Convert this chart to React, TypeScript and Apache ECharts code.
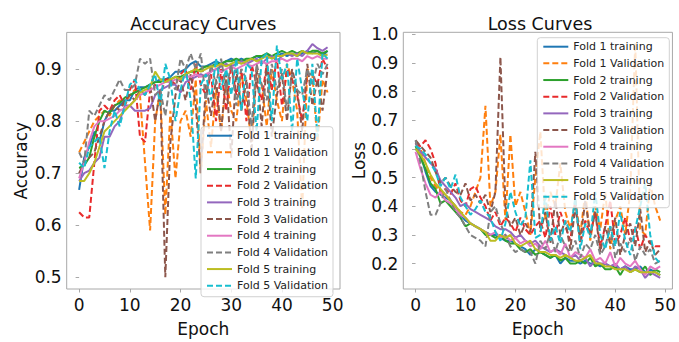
import React, { useEffect, useRef } from "react";
import * as echarts from "echarts";

const epochs: number[] = Array.from({ length: 50 }, (_, i) => i);
const xTicks = [0, 10, 20, 30, 40, 50];
const accTicks = [0.5, 0.6, 0.7, 0.8, 0.9];
const lossTicks = [0.2, 0.3, 0.4, 0.5, 0.6, 0.7, 0.8, 0.9, 1.0];

const seriesNames = [
  "Fold 1 training", "Fold 1 Validation",
  "Fold 2 training", "Fold 2 Validation",
  "Fold 3 training", "Fold 3 Validation",
  "Fold 4 training", "Fold 4 Validation",
  "Fold 5 training", "Fold 5 Validation",
];
const colors = [
  "#1f77b4", "#ff7f0e", "#2ca02c", "#e82a2b", "#9467bd",
  "#8c564b", "#e377c2", "#7f7f7f", "#bcbd22", "#17becf",
];

// Accuracy
const acc1Train = [0.668,0.73,0.75,0.78,0.76,0.80,0.82,0.82,0.83,0.84,0.84,0.86,0.865,0.865,0.87,0.875,0.88,0.88,0.885,0.895,0.895,0.90,0.91,0.915,0.905,0.905,0.91,0.915,0.91,0.915,0.92,0.915,0.92,0.915,0.92,0.925,0.92,0.93,0.92,0.925,0.93,0.925,0.93,0.925,0.93,0.935,0.93,0.935,0.925,0.935];
const acc1Val = [0.74,0.76,0.78,0.80,0.81,0.82,0.81,0.83,0.84,0.83,0.85,0.86,0.85,0.72,0.59,0.80,0.86,0.62,0.82,0.69,0.80,0.82,0.77,0.88,0.70,0.84,0.75,0.86,0.78,0.88,0.82,0.80,0.89,0.84,0.76,0.90,0.87,0.79,0.90,0.84,0.80,0.91,0.88,0.82,0.63,0.90,0.89,0.76,0.88,0.855];
const acc2Train = [0.71,0.715,0.73,0.77,0.80,0.82,0.815,0.83,0.835,0.845,0.85,0.855,0.86,0.865,0.87,0.875,0.875,0.88,0.88,0.885,0.885,0.89,0.895,0.895,0.90,0.905,0.905,0.91,0.91,0.915,0.915,0.92,0.915,0.92,0.92,0.925,0.925,0.93,0.925,0.93,0.935,0.93,0.935,0.93,0.935,0.93,0.935,0.935,0.93,0.935];
const acc2Val = [0.625,0.615,0.615,0.72,0.82,0.83,0.82,0.84,0.85,0.83,0.86,0.88,0.77,0.76,0.86,0.87,0.85,0.88,0.88,0.87,0.89,0.90,0.86,0.91,0.87,0.85,0.89,0.80,0.90,0.82,0.91,0.85,0.90,0.80,0.91,0.87,0.84,0.91,0.86,0.92,0.83,0.90,0.88,0.85,0.80,0.89,0.89,0.87,0.92,0.90];
const acc3Train = [0.685,0.70,0.705,0.72,0.73,0.77,0.77,0.79,0.80,0.83,0.83,0.82,0.82,0.82,0.825,0.85,0.86,0.865,0.87,0.87,0.855,0.875,0.88,0.885,0.89,0.885,0.895,0.90,0.905,0.91,0.905,0.91,0.915,0.91,0.915,0.92,0.91,0.92,0.925,0.915,0.925,0.93,0.925,0.93,0.925,0.935,0.948,0.94,0.935,0.942];
const acc3Val = [0.70,0.72,0.73,0.74,0.77,0.80,0.82,0.83,0.82,0.84,0.85,0.84,0.86,0.85,0.87,0.80,0.86,0.50,0.76,0.85,0.88,0.84,0.89,0.83,0.70,0.87,0.81,0.88,0.78,0.89,0.73,0.90,0.82,0.88,0.74,0.90,0.79,0.91,0.77,0.85,0.89,0.80,0.90,0.86,0.78,0.91,0.83,0.88,0.82,0.90];
const acc4Train = [0.69,0.72,0.76,0.79,0.80,0.80,0.805,0.81,0.82,0.825,0.83,0.84,0.85,0.855,0.86,0.865,0.87,0.875,0.875,0.88,0.88,0.885,0.885,0.89,0.885,0.89,0.895,0.90,0.895,0.90,0.905,0.90,0.905,0.91,0.905,0.91,0.915,0.91,0.915,0.915,0.92,0.915,0.92,0.92,0.915,0.925,0.92,0.925,0.92,0.92];
const acc4Val = [0.74,0.72,0.82,0.81,0.83,0.85,0.84,0.86,0.88,0.86,0.86,0.87,0.92,0.91,0.92,0.85,0.86,0.81,0.88,0.86,0.92,0.90,0.93,0.90,0.93,0.84,0.91,0.87,0.92,0.86,0.91,0.83,0.90,0.88,0.79,0.91,0.87,0.84,0.91,0.86,0.90,0.82,0.89,0.86,0.85,0.90,0.87,0.91,0.89,0.91];
const acc5Train = [0.685,0.685,0.70,0.72,0.75,0.78,0.79,0.80,0.81,0.82,0.83,0.84,0.855,0.86,0.865,0.895,0.88,0.875,0.88,0.885,0.88,0.89,0.895,0.90,0.895,0.90,0.905,0.905,0.91,0.905,0.91,0.915,0.91,0.915,0.92,0.915,0.92,0.925,0.92,0.925,0.925,0.93,0.93,0.925,0.935,0.93,0.93,0.93,0.925,0.928];
const acc5Val = [0.72,0.71,0.75,0.76,0.77,0.71,0.78,0.82,0.79,0.83,0.87,0.88,0.86,0.85,0.87,0.89,0.83,0.91,0.88,0.80,0.86,0.90,0.84,0.69,0.87,0.89,0.84,0.92,0.86,0.90,0.85,0.92,0.82,0.91,0.90,0.78,0.92,0.93,0.80,0.945,0.88,0.91,0.78,0.92,0.86,0.80,0.91,0.77,0.93,0.92];

// Loss
const loss1Train = [0.60,0.58,0.52,0.47,0.45,0.44,0.43,0.42,0.40,0.37,0.35,0.34,0.33,0.32,0.31,0.30,0.30,0.29,0.28,0.28,0.27,0.26,0.25,0.23,0.25,0.24,0.23,0.22,0.23,0.20,0.22,0.21,0.21,0.20,0.21,0.20,0.20,0.19,0.20,0.19,0.19,0.18,0.19,0.18,0.18,0.19,0.17,0.18,0.17,0.16];
const loss1Val = [0.62,0.60,0.55,0.50,0.47,0.45,0.44,0.42,0.40,0.38,0.37,0.40,0.45,0.50,0.75,0.40,0.45,0.65,0.35,0.65,0.40,0.45,0.38,0.30,0.50,0.66,0.35,0.45,0.40,0.55,0.38,0.32,0.42,0.30,0.45,0.28,0.40,0.32,0.45,0.25,0.35,0.40,0.30,0.45,0.97,0.32,0.30,0.48,0.40,0.35];
const loss2Train = [0.61,0.57,0.53,0.48,0.46,0.41,0.42,0.40,0.38,0.36,0.33,0.34,0.33,0.32,0.30,0.30,0.29,0.30,0.28,0.27,0.27,0.25,0.24,0.25,0.23,0.24,0.23,0.22,0.23,0.21,0.22,0.20,0.20,0.21,0.20,0.22,0.19,0.20,0.18,0.18,0.19,0.16,0.19,0.17,0.18,0.17,0.19,0.16,0.18,0.17];
const loss2Val = [0.62,0.61,0.63,0.60,0.55,0.45,0.46,0.44,0.48,0.42,0.40,0.46,0.47,0.43,0.40,0.35,0.38,0.33,0.36,0.34,0.31,0.36,0.32,0.30,0.33,0.35,0.29,0.40,0.30,0.38,0.33,0.28,0.42,0.27,0.35,0.30,0.38,0.26,0.33,0.42,0.27,0.30,0.36,0.28,0.33,0.25,0.30,0.27,0.26,0.26];
const loss3Train = [0.62,0.59,0.57,0.55,0.53,0.49,0.47,0.45,0.43,0.40,0.41,0.39,0.38,0.37,0.36,0.35,0.33,0.32,0.32,0.31,0.29,0.30,0.28,0.27,0.28,0.26,0.25,0.24,0.25,0.24,0.23,0.22,0.23,0.21,0.22,0.19,0.21,0.20,0.20,0.19,0.20,0.18,0.19,0.17,0.19,0.18,0.15,0.17,0.16,0.15];
const loss3Val = [0.63,0.61,0.59,0.57,0.52,0.48,0.50,0.47,0.45,0.44,0.48,0.42,0.44,0.41,0.44,0.38,0.45,0.92,0.40,0.33,0.36,0.30,0.34,0.31,0.59,0.31,0.38,0.27,0.42,0.30,0.35,0.25,0.40,0.28,0.42,0.30,0.38,0.24,0.33,0.27,0.36,0.23,0.30,0.34,0.26,0.39,0.24,0.28,0.23,0.25];
const loss4Train = [0.59,0.53,0.48,0.44,0.43,0.45,0.42,0.41,0.39,0.37,0.36,0.34,0.33,0.32,0.31,0.30,0.31,0.29,0.30,0.28,0.29,0.27,0.28,0.26,0.27,0.25,0.28,0.24,0.25,0.23,0.27,0.22,0.24,0.23,0.22,0.25,0.21,0.22,0.20,0.24,0.19,0.22,0.20,0.19,0.21,0.18,0.16,0.19,0.18,0.19];
const loss4Val = [0.63,0.55,0.45,0.37,0.37,0.41,0.46,0.42,0.38,0.36,0.33,0.30,0.29,0.28,0.26,0.38,0.40,0.34,0.30,0.26,0.24,0.25,0.24,0.24,0.20,0.28,0.25,0.31,0.24,0.30,0.26,0.24,0.28,0.22,0.27,0.25,0.30,0.23,0.26,0.33,0.22,0.27,0.24,0.29,0.21,0.26,0.23,0.25,0.20,0.21];
const loss5Train = [0.60,0.58,0.55,0.51,0.48,0.46,0.44,0.42,0.40,0.38,0.36,0.34,0.33,0.32,0.31,0.28,0.28,0.30,0.29,0.30,0.27,0.26,0.27,0.28,0.25,0.24,0.24,0.23,0.23,0.22,0.23,0.22,0.21,0.21,0.22,0.23,0.20,0.20,0.19,0.19,0.18,0.18,0.18,0.17,0.18,0.17,0.17,0.17,0.17,0.16];
const loss5Val = [0.61,0.60,0.58,0.55,0.52,0.47,0.50,0.46,0.51,0.43,0.40,0.37,0.39,0.42,0.38,0.36,0.31,0.28,0.34,0.45,0.38,0.33,0.36,0.56,0.29,0.30,0.44,0.28,0.33,0.27,0.35,0.31,0.43,0.25,0.34,0.29,0.45,0.30,0.25,0.33,0.26,0.38,0.28,0.23,0.32,0.40,0.48,0.30,0.22,0.20];

const accData = [acc1Train, acc1Val, acc2Train, acc2Val, acc3Train, acc3Val, acc4Train, acc4Val, acc5Train, acc5Val];
const lossData = [loss1Train, loss1Val, loss2Train, loss2Val, loss3Train, loss3Val, loss4Train, loss4Val, loss5Train, loss5Val];

const FONT = "DejaVu Sans";
const AXIS_COLOR = "#a8a8a8";

export default function App() {
  const ref = useRef<HTMLDivElement>(null);
  useEffect(() => {
    if (!ref.current) return;
    const chart = echarts.init(ref.current, undefined, { renderer: "svg" });

    const mkX = (gridIndex: number) => ({
      type: "value",
      gridIndex,
      min: -2.45,
      max: 51.45,
      name: "Epoch",
      nameLocation: "middle",
      nameGap: 31,
      nameTextStyle: { fontFamily: FONT, fontSize: 17, color: "#111" },
      axisLine: { show: false },
      axisTick: { show: true, length: 3.5, lineStyle: { color: AXIS_COLOR }, customValues: xTicks },
      axisLabel: { fontFamily: FONT, fontSize: 17, color: "#111", margin: 7, customValues: xTicks, formatter: (v: number) => String(v) },
      splitLine: { show: false },
    });
    const mkY = (gridIndex: number, min: number, max: number, ticks: number[], name: string, gap: number) => ({
      type: "value",
      gridIndex,
      min,
      max,
      name,
      nameLocation: "middle",
      nameGap: gap,
      nameTextStyle: { fontFamily: FONT, fontSize: 17, color: "#111" },
      axisLine: { show: false },
      axisTick: { show: true, length: 3.5, lineStyle: { color: AXIS_COLOR }, customValues: ticks },
      axisLabel: { fontFamily: FONT, fontSize: 17, color: "#111", margin: 5, customValues: ticks, formatter: (v: number) => v.toFixed(1) },
      splitLine: { show: false },
    });

    const mkSeries = (data: number[][], idx: number) =>
      data.map((vals, i) => ({
        type: "line",
        name: seriesNames[i],
        xAxisIndex: idx,
        yAxisIndex: idx,
        data: epochs.map((e, j) => [e, vals[j]]),
        symbol: "none",
        showSymbol: false,
        color: colors[i],
        lineStyle: { width: 2, color: colors[i], type: i % 2 === 1 ? [6, 3] : "solid" },
        emphasis: { disabled: true },
      }));

    const mkLegend = (left: number, top: number) => ({
      orient: "vertical",
      left,
      top,
      data: seriesNames,
      itemWidth: 25,
      itemHeight: 10,
      itemGap: 2.67,
      padding: [2, 5, 4, 5],
      backgroundColor: "rgba(255,255,255,0.8)",
      borderColor: "rgba(204,204,204,0.9)",
      borderWidth: 1,
      borderRadius: 3,
      selectedMode: false,
      itemStyle: { opacity: 0, borderWidth: 0 },
      textStyle: { fontFamily: FONT, fontSize: 11, color: "#222", lineHeight: 14 },
    });

    chart.setOption({
      animation: false,
      backgroundColor: "#fff",
      title: [
        { text: "Accuracy Curves", left: 203.3, top: 15, textAlign: "center", padding: 0, textStyle: { fontFamily: FONT, fontSize: 17.5, fontWeight: "normal", color: "#111" } },
        { text: "Loss Curves", left: 540, top: 15, textAlign: "center", padding: 0, textStyle: { fontFamily: FONT, fontSize: 17.5, fontWeight: "normal", color: "#111" } },
      ],
      grid: [
        { left: 66.7, top: 32.4, width: 273.3, height: 269.2, show: true, borderColor: AXIS_COLOR, borderWidth: 1, backgroundColor: "transparent" },
        { left: 403.3, top: 32.3, width: 273.4, height: 269.4, show: true, borderColor: AXIS_COLOR, borderWidth: 1, backgroundColor: "transparent" },
      ],
      xAxis: [mkX(0), mkX(1)],
      yAxis: [
        mkY(0, 0.4776, 0.9704, accTicks, "Accuracy", 37),
        mkY(1, 0.1113, 1.0066, lossTicks, "Loss", 35),
      ],
      legend: [
        { ...mkLegend(201, 126.7), id: "l1" },
        { ...mkLegend(537.3, 37.7), id: "l2" },
      ],
      series: [...mkSeries(accData, 0), ...mkSeries(lossData, 1)],
    });

    return () => chart.dispose();
  }, []);

  return (
    <div
      ref={ref}
      style={{ position: "fixed", left: 0, top: 0, width: 679, height: 342 }}
    />
  );
}
